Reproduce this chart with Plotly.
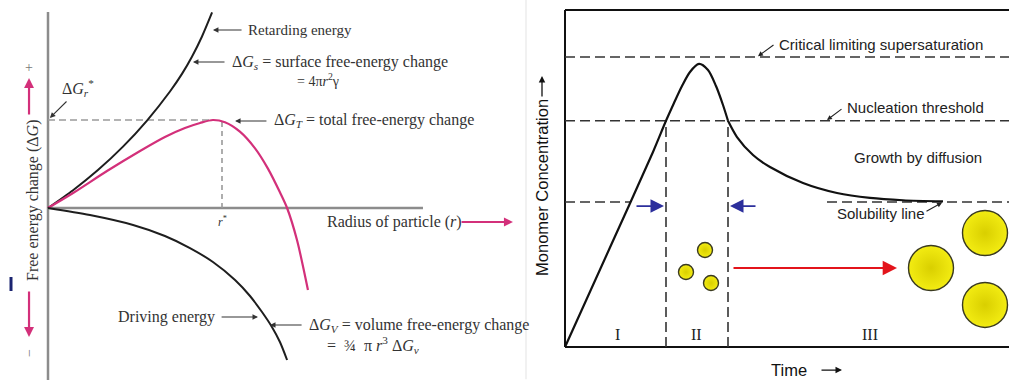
import plotly.graph_objects as go

# ---------------- Left panel: free-energy change vs. particle radius ----------------
# radius in units of r*, free energy in units of dG*
r_surface = [0, 0.144, 0.287, 0.431, 0.569, 0.701, 0.770, 0.828, 0.885, 0.943]
g_surface = [0, 0.202, 0.431, 0.697, 0.994, 1.324, 1.524, 1.721, 1.949, 2.222]

r_total = [0, 0.144, 0.339, 0.529, 0.672, 0.787, 0.874, 0.948, 1.017, 1.103, 1.190,
           1.264, 1.333, 1.374, 1.431, 1.494]
g_total = [0, 0.170, 0.420, 0.648, 0.807, 0.909, 0.966, 1.0, 0.974, 0.867, 0.677,
           0.447, 0.178, 0.0, -0.364, -0.932]

r_volume = [0, 0.241, 0.489, 0.672, 0.816, 0.948, 1.075, 1.161, 1.230, 1.287, 1.333, 1.374]
g_volume = [0, -0.080, -0.193, -0.318, -0.455, -0.614, -0.818, -1.0, -1.182, -1.352, -1.523, -1.727]

r_star = 1.0

# ---------------- Right panel: LaMer diagram ----------------
t_rise = [0, 0.47, 0.88, 1.01, 1.09, 1.17, 1.25, 1.34, 1.43, 1.51, 1.58, 1.63]
c_rise = [0, 0.717, 1.345, 1.56, 1.683, 1.80, 1.897, 1.952, 1.91, 1.80, 1.669, 1.56]

t_growth = [1.63, 1.72, 1.88, 2.05, 2.38, 2.72, 3.05, 3.38, 3.78]
c_growth = [1.56, 1.448, 1.324, 1.241, 1.131, 1.062, 1.028, 1.012, 1.004]

c_critical = 2.0
c_nucleation = 1.56
c_solubility = 1.0
t_stage_bounds = [1.01, 1.63]
stage_labels = ["I", "II", "III"]
stage_t = [0.52, 1.31, 3.05]

nuclei_t = [1.40, 1.21, 1.46]
nuclei_c = [0.669, 0.517, 0.441]
grown_t = [3.66, 4.20, 4.20]
grown_c = [0.545, 0.786, 0.290]

# ---------------- styling ----------------
W, H = 1009, 387
SPLIT = 523 / W
SERIF = "Liberation Serif, Times New Roman, serif"
SANS = "Liberation Sans, Arial, sans-serif"
PINK = "#d3307a"
INK = "#1e1e1e"
GREY_AXIS = "#8c8c8c"
NAVY = "#2c2f9c"

L_X = [-48 / 174, 475 / 174]
L_Y = [-179 / 88, 208 / 88]
R_X = [-0.42, 4.44]
R_Y = [-40 / 145, 347 / 145]

fig = go.Figure()

line_kw = dict(mode="lines", hoverinfo="skip", showlegend=False)
fig.add_trace(go.Scatter(x=r_surface, y=g_surface, line=dict(color=INK, width=2, shape="spline", smoothing=0.8),
                         xaxis="x", yaxis="y", **line_kw))
fig.add_trace(go.Scatter(x=r_total, y=g_total, line=dict(color=PINK, width=2.2, shape="spline", smoothing=0.8),
                         xaxis="x", yaxis="y", **line_kw))
fig.add_trace(go.Scatter(x=r_volume, y=g_volume, line=dict(color=INK, width=2, shape="spline", smoothing=0.8),
                         xaxis="x", yaxis="y", **line_kw))

fig.add_trace(go.Scatter(x=t_rise, y=c_rise, line=dict(color="#111", width=2.2, shape="spline", smoothing=0.8),
                         xaxis="x2", yaxis="y2", **line_kw))
fig.add_trace(go.Scatter(x=t_growth, y=c_growth, line=dict(color="#111", width=2.2, shape="spline", smoothing=0.8),
                         xaxis="x2", yaxis="y2", **line_kw))

ball = dict(color="#f3ec12", line=dict(color="#3a3a20", width=1.4),
            gradient=dict(type="radial", color="#d9cf00"))
fig.add_trace(go.Scatter(x=nuclei_t, y=nuclei_c, mode="markers", hoverinfo="skip", showlegend=False,
                         marker=dict(size=15, **ball), xaxis="x2", yaxis="y2"))
fig.add_trace(go.Scatter(x=grown_t, y=grown_c, mode="markers", hoverinfo="skip", showlegend=False,
                         marker=dict(size=45, **ball), xaxis="x2", yaxis="y2"))

# ---------------- reference lines ----------------
peak_i = max(range(len(g_total)), key=lambda i: g_total[i])
g_peak = g_total[peak_i]
r_peak = r_total[peak_i]

shapes = []


def seg(x0, y0, x1, y1, ref, color, width, dash="solid"):
    shapes.append(dict(type="line", xref="x" + ref, yref="y" + ref, x0=x0, y0=y0, x1=x1, y1=y1,
                       line=dict(color=color, width=width, dash=dash), layer="below"))


# left panel axes and guides
seg(0, -1.955, 0, 2.227, "", GREY_AXIS, 2.5)
seg(0, 0, 2.155, 0, "", GREY_AXIS, 2.5)
seg(0, g_peak, r_peak, g_peak, "", "#9a9a9a", 1.6, "7px,4px")
seg(r_star, 0, r_star, g_peak, "", "#9a9a9a", 1.6, "5px,4px")

# right panel frame
top = R_Y[1] - 10 / 145
seg(0, 0, 0, top, "2", "#111", 2)
seg(0, top, R_X[1], top, "2", "#111", 2)
seg(0, 0, R_X[1], 0, "2", "#111", 2)

DASH = "10px,5px"
seg(0, c_critical, R_X[1], c_critical, "2", "#333", 1.6, DASH)
seg(0, c_nucleation, R_X[1], c_nucleation, "2", "#333", 1.6, DASH)
seg(0, c_solubility, 0.66, c_solubility, "2", "#333", 1.6, DASH)
seg(2.62, c_solubility, R_X[1], c_solubility, "2", "#333", 1.6, DASH)
for tb in t_stage_bounds:
    seg(tb, 0, tb, c_nucleation, "2", "#333", 1.6, DASH)

# faint divider between the panels
shapes.append(dict(type="line", xref="paper", yref="paper", x0=526 / W, x1=526 / W, y0=0.02, y1=1,
                   line=dict(color="#ececec", width=1.5)))
shapes.append(dict(type="line", xref="paper", yref="paper", x0=11 / W, x1=11 / W,
                   y0=1 - 291 / H, y1=1 - 277 / H, line=dict(color="#1b2470", width=3)))

# ---------------- annotations ----------------
ann = []


def text(x, y, s, ref="", font=SERIF, size=16, color="#333", xanchor="left", angle=0):
    ann.append(dict(x=x, y=y, xref="x" + ref, yref="y" + ref, text=s, showarrow=False,
                    xanchor=xanchor, yanchor="middle", textangle=angle,
                    font=dict(family=font, size=size, color=color)))


def arrow(tail, tip, ref="", color="#333", width=1.1, size=1.0, head=2):
    ann.append(dict(x=tip[0], y=tip[1], ax=tail[0], ay=tail[1], xref="x" + ref, yref="y" + ref,
                    axref="x" + ref, ayref="y" + ref, text="", showarrow=True,
                    arrowhead=head, arrowsize=size, arrowwidth=width, arrowcolor=color,
                    standoff=0, startstandoff=0))


# left panel labels
text(1.138, 2.023, "Retarding energy", size=15)
arrow((1.121, 2.023), (0.948, 2.023))
text(1.046, 1.659, "Δ<i>G</i><sub><i>s</i></sub> = surface free-energy change")
arrow((1.023, 1.659), (0.833, 1.659))
text(1.420, 1.455, "= 4π<i>r</i><sup>2</sup>γ", size=14)
text(1.287, 0.989, "Δ<i>G</i><sub><i>T</i></sub> = total free-energy change")
arrow((1.264, 0.989), (1.075, 0.989))
text(1.592, -0.159, "Radius of particle (<i>r</i>)")
arrow((2.368, -0.159), (2.672, -0.159), color=PINK, width=2, size=0.9)
text(r_star, -0.15, "<i>r</i><sup>*</sup>", size=12, xanchor="center")
text(0.172, 1.364, "Δ<i>G</i><sub><i>r</i></sub><sup>*</sup>", xanchor="center")
arrow((0.115, 1.227), (0.011, 1.023))
text(-0.086, 0.08, "Free energy change (Δ<i>G</i>)", size=16, xanchor="center", angle=-90)
arrow((-0.109, 1.045), (-0.109, 1.477), color=PINK, width=2.2, size=0.9)
text(-0.109, 1.602, "+", size=14, color="#777", xanchor="center")
arrow((-0.109, -0.932), (-0.109, -1.466), color=PINK, width=2.2, size=0.9)
text(-0.109, -1.648, "−", size=14, color="#777", xanchor="center", angle=-90)
text(0.971, -1.239, "Driving energy", xanchor="right")
arrow((0.989, -1.239), (1.207, -1.239))
text(1.489, -1.33, "Δ<i>G</i><sub><i>V</i></sub> = volume free-energy change")
arrow((1.466, -1.33), (1.276, -1.33))
text(1.592, -1.557, "=  ¾  π <i>r</i><sup>3</sup> Δ<i>G</i><sub><i>v</i></sub>")

# right panel labels
text(2.12, 2.083, "Critical limiting supersaturation", "2", SANS, 15, "#222")
arrow((2.10, 2.09), (1.93, 2.005), "2", "#222", 1.1, 0.9)
text(2.80, 1.655, "Nucleation threshold", "2", SANS, 15, "#222")
arrow((2.78, 1.648), (2.62, 1.565), "2", "#222", 1.1, 0.9)
text(2.87, 1.31, "Growth by diffusion", "2", SANS, 15, "#222")
text(2.70, 0.924, "Solubility line", "2", SANS, 15, "#222")
arrow((3.60, 0.931), (3.77, 0.995), "2", "#222", 1.1, 0.9)
text(-0.23, 1.097, "Monomer Concentration", "2", SANS, 16.5, "#111", "center", -90)
arrow((-0.23, 1.717), (-0.23, 1.869), "2", "#111", 1.3, 1.0)
text(2.24, -0.159, "Time", "2", SANS, 16.5, "#111", "center")
arrow((2.55, -0.159), (2.77, -0.159), "2", "#111", 1.3, 1.0)
for lab, tx in zip(stage_labels, stage_t):
    text(tx, 0.083, lab, "2", SERIF, 16, "#222", "center")

arrow((0.70, 0.972), (0.99, 0.972), "2", NAVY, 1.8, 1.5)
arrow((1.92, 0.972), (1.65, 0.972), "2", NAVY, 1.8, 1.5)
arrow((1.67, 0.545), (3.32, 0.545), "2", "#e3141b", 2.2, 1.3)

hidden = dict(visible=False, fixedrange=True)
fig.update_layout(
    width=W, height=H,
    margin=dict(l=0, r=0, t=0, b=0),
    paper_bgcolor="white", plot_bgcolor="white",
    showlegend=False,
    xaxis=dict(domain=[0, SPLIT], range=L_X, **hidden),
    yaxis=dict(domain=[0, 1], range=L_Y, anchor="x", **hidden),
    xaxis2=dict(domain=[SPLIT, 1], range=R_X, anchor="y2", **hidden),
    yaxis2=dict(domain=[0, 1], range=R_Y, anchor="x2", **hidden),
    shapes=shapes,
    annotations=ann,
)

fig.write_html("out.html")
